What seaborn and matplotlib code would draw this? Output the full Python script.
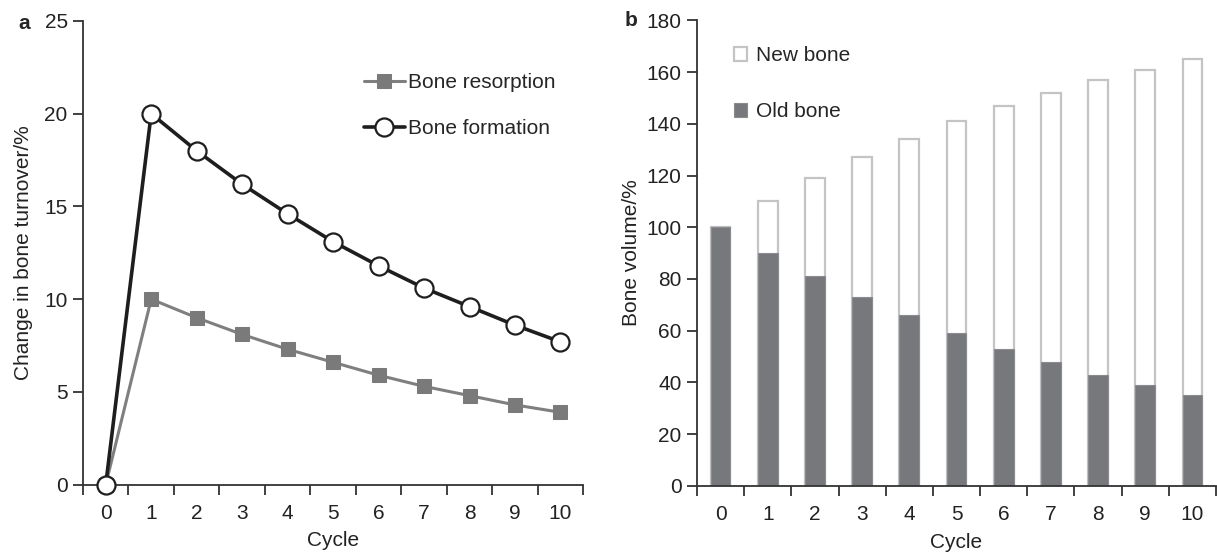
import numpy as np
import pandas as pd
import matplotlib
matplotlib.use("Agg")
import matplotlib.pyplot as plt
import seaborn as sns

cycles = list(range(11))
resorption = [0, 10.0, 9.0, 8.1, 7.3, 6.6, 5.9, 5.3, 4.8, 4.3, 3.9]
formation = [0, 20.0, 18.0, 16.2, 14.6, 13.1, 11.8, 10.6, 9.6, 8.6, 7.7]
old_bone = [100, 90, 81, 73, 66, 59, 53, 48, 43, 39, 35]
new_bone = [0, 20, 38, 54, 68, 82, 94, 104, 114, 122, 130]

sns.set_theme(style="ticks")
plt.rcParams["font.family"] = ["Liberation Sans", "DejaVu Sans"]
FS = 15
AX_COLOR = "#333333"

fig = plt.figure(figsize=(12.17, 5.52), dpi=100)
ax1 = fig.add_axes([0.0682, 0.122, 0.411, 0.840])
ax2 = fig.add_axes([0.5727, 0.12, 0.4265, 0.843])


def style_axis(ax, ymax, ystep):
    sns.despine(ax=ax)
    for s in ["left", "bottom"]:
        ax.spines[s].set_color(AX_COLOR)
        ax.spines[s].set_linewidth(1.3)
    ax.set_xlim(-0.5, 10.5)
    ax.set_ylim(0, ymax)
    ax.set_yticks(np.arange(0, ymax + 1, ystep))
    ax.set_xticks(cycles)
    ax.set_xticklabels([str(c) for c in cycles])
    ax.set_xticks(np.arange(-0.5, 11, 1), minor=True)
    ax.tick_params(axis="x", which="major", length=0, pad=14, labelsize=FS, colors="#222222")
    ax.tick_params(axis="x", which="minor", length=7, width=1.3, color=AX_COLOR)
    ax.tick_params(axis="y", length=7, width=1.3, color=AX_COLOR, labelsize=FS,
                   labelcolor="#222222", pad=4)
    ax.set_xlabel("Cycle", fontsize=FS, color="#222222", labelpad=6)
    ax.set_facecolor("white")


# panel a
df_a = pd.DataFrame({"Cycle": cycles, "res": resorption, "form": formation})
sns.lineplot(data=df_a, x="Cycle", y="res", ax=ax1, color="#7f7f7f", linewidth=2.2,
             marker="s", markersize=10.5, markerfacecolor="#7a7a7a",
             markeredgecolor="#7a7a7a", label="Bone resorption", clip_on=False, zorder=3)
sns.lineplot(data=df_a, x="Cycle", y="form", ax=ax1, color="#1e1e1e", linewidth=2.6,
             marker="o", markersize=13, markerfacecolor="white",
             markeredgecolor="#1e1e1e", markeredgewidth=1.6,
             label="Bone formation", clip_on=False, zorder=4)
style_axis(ax1, 25, 5)
ax1.set_ylabel("Change in bone turnover/%", fontsize=FS, color="#222222", labelpad=8)
ax1.legend(loc="upper left", bbox_to_anchor=(0.545, 0.905), frameon=False, fontsize=FS,
           handlelength=1.95, handletextpad=0.15, labelspacing=1.3, borderaxespad=0)

# panel b
df_b = pd.DataFrame({"Cycle": [str(c) for c in cycles], "old": old_bone,
                     "total": np.array(old_bone) + np.array(new_bone)})
sns.barplot(data=df_b, x="Cycle", y="total", ax=ax2, color="white", width=0.42,
            edgecolor="#c4c4c4", linewidth=1.6, saturation=1, label="New bone")
sns.barplot(data=df_b, x="Cycle", y="old", ax=ax2, color="#77787b", width=0.42,
            edgecolor="#8a8b8e", linewidth=0.8, saturation=1, label="Old bone")
style_axis(ax2, 180, 20)
ax2.set_ylabel("Bone volume/%", fontsize=FS, color="#222222", labelpad=4)
ax2.legend(loc="upper left", bbox_to_anchor=(0.055, 0.962), frameon=False, fontsize=FS,
           handlelength=0.65, handleheight=0.65, handletextpad=0.4, labelspacing=1.75,
           borderaxespad=0)

fig.text(0.015, 0.958, "a", fontsize=FS, fontweight="bold", va="center")
fig.text(0.513, 0.962, "b", fontsize=FS, fontweight="bold", va="center")

fig.savefig("out.png", dpi=100, facecolor="white")
